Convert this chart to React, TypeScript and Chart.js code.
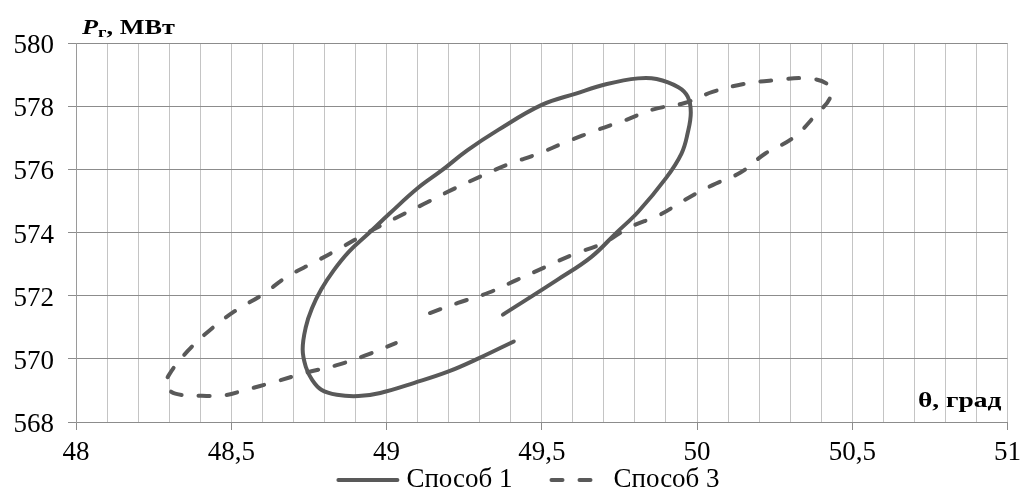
import React, { useEffect, useRef } from 'react';
import { Chart, registerables } from 'chart.js';

Chart.register(...registerables);

// ---- data ----
const seriesNames = ['Способ 1', 'Способ 3'];

const method1Theta = [
  49.41, 49.3, 49.2, 49.09, 48.98, 48.91, 48.84, 48.79, 48.76, 48.74, 48.73, 48.74, 48.76,
  48.79, 48.83, 48.88, 48.94, 49.01, 49.1, 49.18, 49.26, 49.36, 49.5, 49.61, 49.71, 49.81, 49.87,
  49.94, 49.97, 49.98, 49.97, 49.95, 49.9, 49.81, 49.74, 49.66, 49.55, 49.375,
];
const method1P = [
  570.55, 570.03, 569.6, 569.24, 568.92, 568.82, 568.86, 569.02, 569.34, 569.75, 570.3, 571.0, 571.6,
  572.2, 572.8, 573.4, 573.95, 574.6, 575.4, 575.98, 576.6, 577.25, 578.04, 578.4, 578.7, 578.88, 578.86,
  578.6, 578.3, 577.8, 577.15, 576.5, 575.72, 574.65, 573.99, 573.23, 572.5, 571.4,
];

const method3Theta = [
  49.14, 49.23, 49.33, 49.42, 49.51, 49.6, 49.7, 49.78, 49.88, 49.96, 50.05, 50.14, 50.22,
  50.31, 50.38, 50.43, 50.42, 50.35, 50.25, 50.15, 50.05, 49.96, 49.86, 49.77, 49.68, 49.58,
  49.49, 49.39, 49.3, 49.21, 49.12, 49.03, 48.94, 48.85, 48.77, 48.68, 48.6, 48.51, 48.43,
  48.36, 48.3, 48.29, 48.32, 48.4, 48.48, 48.54, 48.64, 48.74, 48.84, 48.93, 49.03,
];
const method3P = [
  571.45, 571.77, 572.1, 572.5, 572.9, 573.3, 573.67, 574.15, 574.56, 575.03, 575.5, 575.9, 576.5,
  577.0, 577.7, 578.3, 578.7, 578.88, 578.82, 578.7, 578.45, 578.1, 577.9, 577.56, 577.25, 576.87,
  576.5, 576.15, 575.76, 575.35, 574.9, 574.46, 574.0, 573.5, 573.07, 572.6, 572.03, 571.5, 570.9,
  570.25, 569.5, 569.15, 568.9, 568.83, 568.85, 569.0, 569.27, 569.56, 569.8, 570.1, 570.5,
];

const xMin = 48;
const xMax = 51;
const xMinorStep = 0.1;
const xMajorStep = 0.5;
const yMin = 568;
const yMax = 580;
const yStep = 2;

const yAxisTitleMain = 'P';
const yAxisTitleSub = 'г';
const yAxisTitleRest = ', МВт';
const xAxisTitle = 'θ, град';

const SERIF = '"Liberation Serif", "Times New Roman", serif';
const LINE_COLOR = '#595959';

const isMajor = (v: number) => Math.abs(v / xMajorStep - Math.round(v / xMajorStep)) < 1e-6;

const annotationsPlugin = {
  id: 'customText',
  afterDraw(chart: any) {
    const ctx: CanvasRenderingContext2D = chart.ctx;
    const area = chart.chartArea;
    ctx.save();
    ctx.fillStyle = '#000';
    ctx.textBaseline = 'alphabetic';
    ctx.textAlign = 'left';

    const sx = 1.25;
    const drawStretched = (txt: string, px: number, py: number, font: string) => {
      ctx.save();
      ctx.font = font;
      ctx.translate(px, py);
      ctx.scale(sx, 1);
      ctx.fillText(txt, 0, 0);
      const w = ctx.measureText(txt).width * sx;
      ctx.restore();
      return w;
    };

    // y-axis title with subscript
    let x = area.left + 6;
    const baseY = area.top - 9;
    x += drawStretched(yAxisTitleMain, x, baseY, `italic bold 21px ${SERIF}`);
    x += drawStretched(yAxisTitleSub, x, baseY + 3, `bold 15px ${SERIF}`);
    drawStretched(yAxisTitleRest, x, baseY, `bold 21px ${SERIF}`);

    // x-axis title inside plot, bottom right
    ctx.font = `bold 22px ${SERIF}`;
    const w = ctx.measureText(xAxisTitle).width * sx;
    drawStretched(xAxisTitle, area.right - 6 - w, area.bottom - 15, `bold 22px ${SERIF}`);

    // legend
    const legendY = 480;
    const lineLen = 59;
    ctx.font = `27px ${SERIF}`;
    const widths = chart.data.datasets.map((d: any) => ctx.measureText(d.label).width);
    const total =
      widths.reduce((a: number, b: number) => a + b, 0) +
      chart.data.datasets.length * (lineLen + 9) +
      33 * (chart.data.datasets.length - 1);
    let lx = 529 - total / 2;
    chart.data.datasets.forEach((d: any, i: number) => {
      ctx.save();
      ctx.strokeStyle = d.borderColor;
      ctx.lineWidth = d.borderWidth;
      ctx.lineCap = d.borderCapStyle || 'butt';
      ctx.setLineDash(d.borderDash || []);
      ctx.beginPath();
      const off = d.borderDash && d.borderDash.length ? 6 : 0;
      ctx.moveTo(lx + off, legendY);
      ctx.lineTo(lx + lineLen, legendY);
      ctx.stroke();
      ctx.restore();
      ctx.font = `27px ${SERIF}`;
      ctx.textBaseline = 'middle';
      ctx.fillStyle = '#000';
      ctx.fillText(d.label, lx + lineLen + 9, legendY);
      lx += lineLen + 9 + widths[i] + 33;
    });
    ctx.restore();
  },
};

export default function App() {
  const canvasRef = useRef<HTMLCanvasElement | null>(null);

  useEffect(() => {
    if (!canvasRef.current) return;
    const toPoints = (xs: number[], ys: number[]) => xs.map((x, i) => ({ x, y: ys[i] }));
    const chart = new Chart(canvasRef.current, {
      type: 'scatter',
      data: {
        datasets: [
          {
            label: seriesNames[0],
            data: toPoints(method1Theta, method1P),
            showLine: true,
            borderColor: LINE_COLOR,
            backgroundColor: LINE_COLOR,
            borderWidth: 4,
            pointRadius: 0,
            tension: 0.4,
            borderCapStyle: 'round',
            borderJoinStyle: 'round',
          },
          {
            label: seriesNames[1],
            data: toPoints(method3Theta, method3P),
            showLine: true,
            borderColor: LINE_COLOR,
            backgroundColor: LINE_COLOR,
            borderWidth: 4,
            pointRadius: 0,
            tension: 0.4,
            borderDash: [11, 17],
            borderCapStyle: 'round',
            borderJoinStyle: 'round',
          },
        ],
      },
      options: {
        responsive: false,
        animation: false,
        layout: { padding: { top: 43, right: 17, left: 0, bottom: 0 } },
        plugins: {
          legend: { display: false },
          tooltip: { enabled: false },
          title: { display: false },
        },
        scales: {
          x: {
            type: 'linear',
            min: xMin,
            max: xMax,
            afterFit: (s: any) => {
              s.height = 75;
            },
            ticks: {
              stepSize: xMinorStep,
              autoSkip: false,
              maxRotation: 0,
              padding: 7,
              color: '#000',
              font: { family: SERIF, size: 27 },
              callback: (v: any) =>
                isMajor(Number(v)) ? String(Math.round(Number(v) * 10) / 10).replace('.', ',') : '',
            },
            grid: {
              color: '#c4c4c4',
              lineWidth: 1,
              tickLength: 8,
              tickColor: (c: any) => (c.tick && isMajor(c.tick.value) ? '#8c8c8c' : 'rgba(0,0,0,0)'),
            },
            border: { color: '#8c8c8c', width: 1 },
          },
          y: {
            type: 'linear',
            min: yMin,
            max: yMax,
            afterFit: (s: any) => {
              s.width = 76;
            },
            ticks: {
              stepSize: yStep,
              padding: 14,
              labelOffset: 3,
              color: '#000',
              font: { family: SERIF, size: 27 },
            },
            grid: {
              color: '#8c8c8c',
              lineWidth: 1,
              tickLength: 8,
              tickColor: '#8c8c8c',
            },
            border: { color: '#9a9a9a', width: 1 },
          },
        },
      },
      plugins: [annotationsPlugin],
    } as any);
    return () => chart.destroy();
  }, []);

  return (
    <div style={{ position: 'fixed', left: 0, top: 0, width: 1028, height: 497, background: '#fff' }}>
      <canvas ref={canvasRef} width={1028} height={497} style={{ width: 1028, height: 497, display: 'block' }} />
    </div>
  );
}
